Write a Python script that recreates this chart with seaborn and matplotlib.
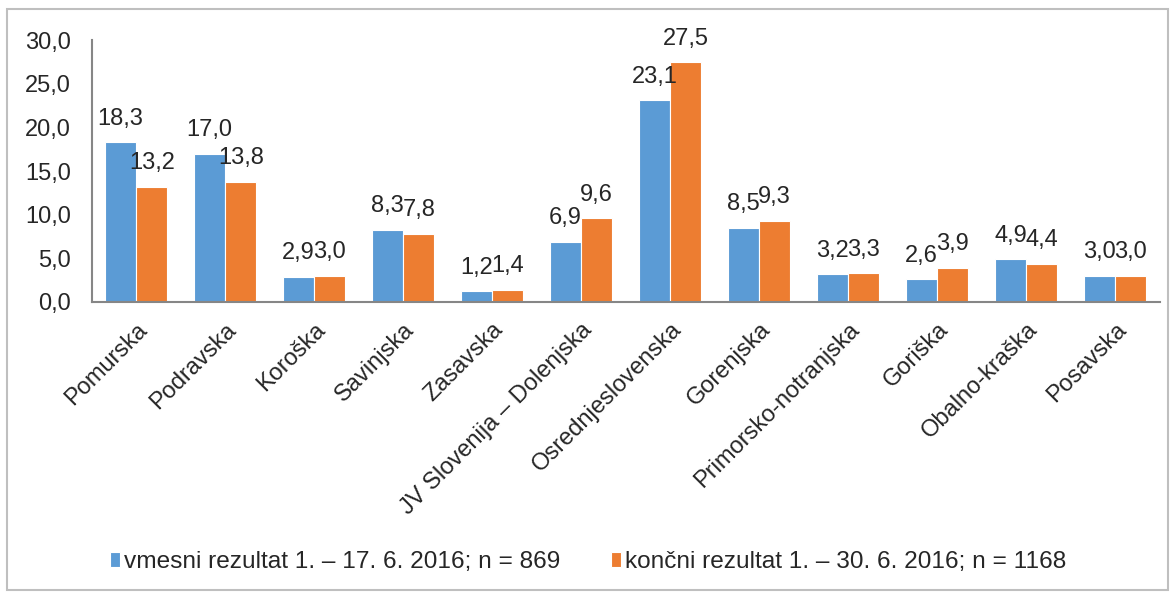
import pandas as pd
import numpy as np
import matplotlib.pyplot as plt
import seaborn as sns
from matplotlib.patches import Rectangle

regije = ['Pomurska', 'Podravska', 'Koroška', 'Savinjska', 'Zasavska',
          'JV Slovenija – Dolenjska', 'Osrednjeslovenska', 'Gorenjska',
          'Primorsko-notranjska', 'Goriška', 'Obalno-kraška', 'Posavska']
vmesni = [18.3, 17.0, 2.9, 8.3, 1.2, 6.9, 23.1, 8.5, 3.2, 2.6, 4.9, 3.0]
koncni = [13.2, 13.8, 3.0, 7.8, 1.4, 9.6, 27.5, 9.3, 3.3, 3.9, 4.4, 3.0]
serije = ['vmesni rezultat 1. – 17. 6. 2016; n = 869',
          'končni rezultat 1. – 30. 6. 2016; n = 1168']
yticks = [0, 5, 10, 15, 20, 25, 30]

df = pd.DataFrame({
    'regija': regije * 2,
    'vrednost': vmesni + koncni,
    'serija': [serije[0]] * len(regije) + [serije[1]] * len(regije),
})

sns.set_style('white')
plt.rcParams['font.family'] = ['Liberation Sans', 'DejaVu Sans']

fig = plt.figure(figsize=(11.76, 5.92), dpi=100)
ax = fig.add_axes([0.078, 0.49, 0.908, 0.442])
sns.barplot(data=df, x='regija', y='vrednost', hue='serija',
            palette=['#5B9BD5', '#ED7D31'], width=0.7, saturation=1,
            edgecolor='white', linewidth=0.8, ax=ax)

# oznake vrednosti nad stolpci (decimalna vejica)
for cont, vals in zip(ax.containers, [vmesni, koncni]):
    ax.bar_label(cont, labels=[f'{v:.1f}'.replace('.', ',') for v in vals],
                 padding=9, fontsize=17)

ax.set_ylim(0, 30)
ax.set_xlim(-0.5, len(regije) - 0.5)
ax.set_yticks(yticks)
ax.set_yticklabels([f'{v:.1f}'.replace('.', ',') for v in yticks], fontsize=17)
ax.set_xticks(range(len(regije)))
ax.set_xticklabels(regije, rotation=45, ha='right', rotation_mode='anchor', fontsize=17)
ax.tick_params(axis='y', length=0, pad=15)
ax.tick_params(axis='x', length=0, pad=12)
ax.set_xlabel('')
ax.set_ylabel('')
for s in ['top', 'right']:
    ax.spines[s].set_visible(False)
for s in ['left', 'bottom']:
    ax.spines[s].set_color('#868686')
    ax.spines[s].set_linewidth(1.5)

handles, labels = ax.get_legend_handles_labels()
ax.legend_.remove()
fig.legend(handles, labels, loc='center', bbox_to_anchor=(0.5, 1 - 562 / 592),
           ncol=2, frameon=False, fontsize=17.6, handlelength=0.4, handleheight=0.55,
           handletextpad=0.15, columnspacing=2.1)

fig.patches.append(Rectangle((0.006, 0.003), 0.987, 0.982, transform=fig.transFigure,
                             fill=False, edgecolor='#bfbfbf', linewidth=1.5))

plt.savefig('out.png', dpi=100)
